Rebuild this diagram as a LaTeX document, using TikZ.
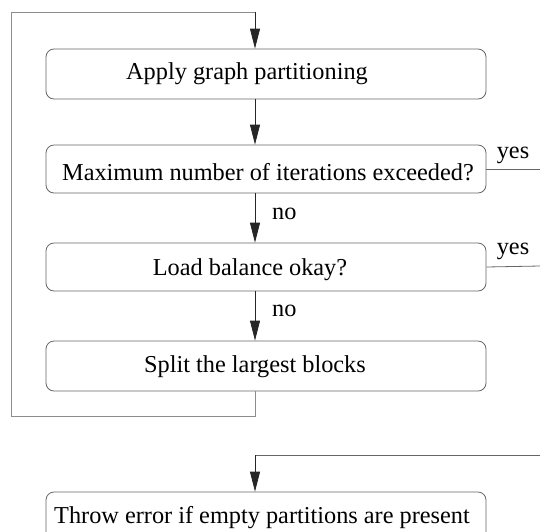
\documentclass[tikz,border=0pt]{standalone}
\usepackage{fontspec}
\setmainfont{Liberation Serif}
\usetikzlibrary{arrows.meta}
\begin{document}
\begin{tikzpicture}[x=1pt,y=-1pt,
  box/.style={draw=black!60, line width=0.8pt, rounded corners=8pt, minimum width=440pt, inner sep=0pt},
  txt/.style={font=\fontsize{24.3}{28}\selectfont, inner sep=0pt},
  flow/.style={draw=black!85, line width=0.8pt, -{Triangle[length=20pt,width=10pt]}},
  plain/.style={draw=black!60, line width=0.8pt},
  back/.style={draw=black!45, line width=1pt}]
\useasboundingbox (0,0) rectangle (540,531);
\clip (0,0) rectangle (540,531);
\coordinate (ax) at (255,0);
\node[box, minimum height=50pt] (b1) at (266,74) {};
\node[box, minimum height=48pt] (b2) at (266,169) {};
\node[box, minimum height=48pt] (b3) at (266,267) {};
\node[box, minimum height=50pt] (b4) at (266,366) {};
\node[box, minimum height=50pt] (b5) at (266,517) {};
\node[txt] (t1) at (247,74) {Apply graph partitioning};
\node[txt] (t2) at (268,172) {Maximum number of iterations exceeded?};
\node[txt] (t3) at (250,270) {Load balance okay?};
\node[txt] (t4) at (255,367) {Split the largest blocks};
\node[txt] (t5) at (262,518) {Throw error if empty partitions are present};
\node[txt, anchor=west] (n1) at (272,214) {no};
\node[txt, anchor=west] (n2) at (272,311) {no};
\node[txt] (y1) at (513,155) {yes};
\node[txt] (y2) at (513,251) {yes};
\coordinate (r1) at (540,169);
\coordinate (r2) at (540,266);
\coordinate (r3) at (540,455);
\coordinate (c1) at (255,455);
\coordinate (l1) at (255,416);
\coordinate (l2) at (11,416);
\coordinate (l3) at (11,12);
\coordinate (l4) at (255,12);
\draw[flow] (b1.south -| ax) -- (b2.north -| ax);
\draw[flow] (b2.south -| ax) -- (b3.north -| ax);
\draw[flow] (b3.south -| ax) -- (b4.north -| ax);
\draw[plain] (b2.east) -- (r1);
\draw[plain] (b3.east) -- (r2);
\draw[back] (b4.south -| ax) -- (l1) -- (l2) -- (l3) -- (l4);
\draw[flow] (l4) -- (b1.north -| ax);
\draw[plain] (r3) -- (c1);
\draw[flow] (c1) -- (b5.north -| ax);
\end{tikzpicture}
\end{document}
